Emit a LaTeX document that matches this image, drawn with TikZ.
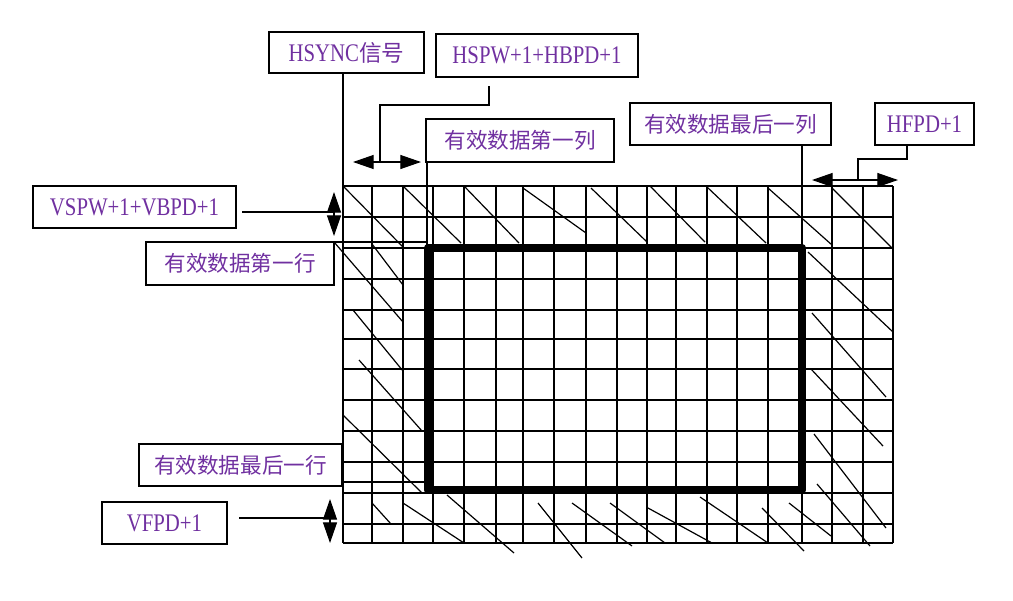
\documentclass[tikz,border=0pt]{standalone}
\usepackage{fontspec}
\usetikzlibrary{arrows.meta,calc}
\newfontfamily\lat[FakeStretch=0.82]{Liberation Serif}
\newfontfamily\cjk{Noto Sans CJK SC}
\definecolor{txt}{RGB}{112,48,160}
\begin{document}
\begin{tikzpicture}[x=0.75pt,y=-0.75pt,
  box/.style 2 args={draw, line width=1pt, inner sep=0pt, outer sep=0pt, text=txt,
     minimum width=#1*0.75pt, minimum height=#2*0.75pt},
  ln/.style={line width=0.9pt},
  gridln/.style={line width=0.9pt},
  diag/.style={line width=0.9pt},
  dbl/.style={{Triangle[length=15.5pt,width=10.5pt]}-{Triangle[length=15.5pt,width=10.5pt]}, line width=0.9pt},
  L/.style={font=\lat\fontsize{19}{19}\selectfont},
  C/.style={font=\cjk\fontsize{16.2}{16.2}\selectfont}]
\useasboundingbox (0,0) rectangle (1013,600);
% grid
\node[inner sep=0pt, outer sep=0pt, minimum width=550*0.75pt, minimum height=357*0.75pt] (grid) at (618,364.5) {};
\foreach \x in {343,372,403,433,464,496,523,554,586,617,647,676,707,737,768,802,832,863}
  \draw[gridln] (\x,186) -- (\x,543);
\draw[line width=1.7pt] (893,186) -- (893,543);
\foreach \y in {186,217,248,279,310,339,369,400,431,462,493,524,543}
  \draw[gridln] (343,\y) -- (893,\y);
% diagonals
\foreach \a/\b/\c/\d in {
  343/186/403/247, 403/186/461/243, 464/186/519/243, 523/188/586/233,
  591/188/647/242, 650/186/705/242, 707/187/766/243, 768/188/832/245,
  832/188/892/248,
  808/252/893/332, 812/313/886/397, 811/369/883/446, 814/434/886/528,
  817/484/870/546,
  789/503/831/536, 762/508/804/551, 700/497/768/543, 648/508/712/543,
  610/503/665/543, 572/503/632/546, 538/503/582/558, 447/495/514/553,
  403/503/464/543, 372/503/391/524,
  343/415/422/493, 359/360/422/431, 353/310/403/371, 372/244/403/285,
  334/242/403/322}
  \draw[diag] (\a,\b) -- (\c,\d);
% thick frame
\node[draw, line width=6.4pt, line join=round, inner sep=0pt, outer sep=0pt,
      minimum width=374*0.75pt, minimum height=242*0.75pt] (frame) at (615,369) {};
% label boxes
\node[box={155}{41}] (hsync) at (346.5,52.5) {\lat\fontsize{19}{19}\selectfont HSYNC\cjk\fontsize{17}{17}\selectfont 信号};
\node[box={202}{43}, L] (hspw) at (537,55.5) {HSPW+1+HBPD+1};
\node[box={188}{43}, C] (col1) at (520,140.5) {有效数据第一列};
\node[box={201}{42}, C] (colN) at (730.5,124) {有效数据最后一列};
\node[box={99}{42}, L] (hfpd) at (924.5,124) {HFPD+1};
\node[box={203}{42}, L] (vspw) at (134.5,207) {VSPW+1+VBPD+1};
\node[box={188}{43}, C] (row1) at (240,263.5) {有效数据第一行};
\node[box={203}{42}, C] (rowN) at (240.5,465) {有效数据最后一行};
\node[box={125}{42}, L] (vfpd) at (164.5,523) {VFPD+1};
% arrow end points
\coordinate (a1l) at (353,162); \coordinate (a1r) at (421,162);
\coordinate (a2l) at (812,180); \coordinate (a2r) at (898,180);
\coordinate (a3t) at (334,192); \coordinate (a3b) at (334,236);
\coordinate (a4t) at (330,499); \coordinate (a4b) at (330,543);
\draw[dbl] (a1l) -- (a1r);
\draw[dbl] (a2l) -- (a2r);
\draw[dbl] (a3t) -- (a3b);
\draw[dbl] (a4t) -- (a4b);
% connectors
\draw[ln] (hsync.south -| grid.north west) -- (grid.north west);
\coordinate (hk1) at (489,86); \coordinate (hk2) at (380,105);
\draw[ln] (hk1) |- (hk2) -- (hk2 |- a1l);
\draw[ln] (col1.south west) ++(1,0) coordinate (c1s) -- (c1s |- frame.north);
\draw[ln] (colN.south -| frame.east) -- (frame.north east);
\coordinate (fk1) at (907,145); \coordinate (fk2) at (858,159);
\draw[ln] (fk1) |- (fk2) -- (fk2 |- a2l);
\coordinate (vk) at (242,212);
\draw[ln] (vk) -- (vk -| a3t);
\coordinate (fk) at (239,518);
\draw[ln] (fk) -- (fk -| a4t);
\draw[ln] (row1.north east) -- (row1.north east -| frame.west);
\draw[ln] (rowN.east |- 0,482) -- (frame.west |- 0,482);
\end{tikzpicture}
\end{document}
